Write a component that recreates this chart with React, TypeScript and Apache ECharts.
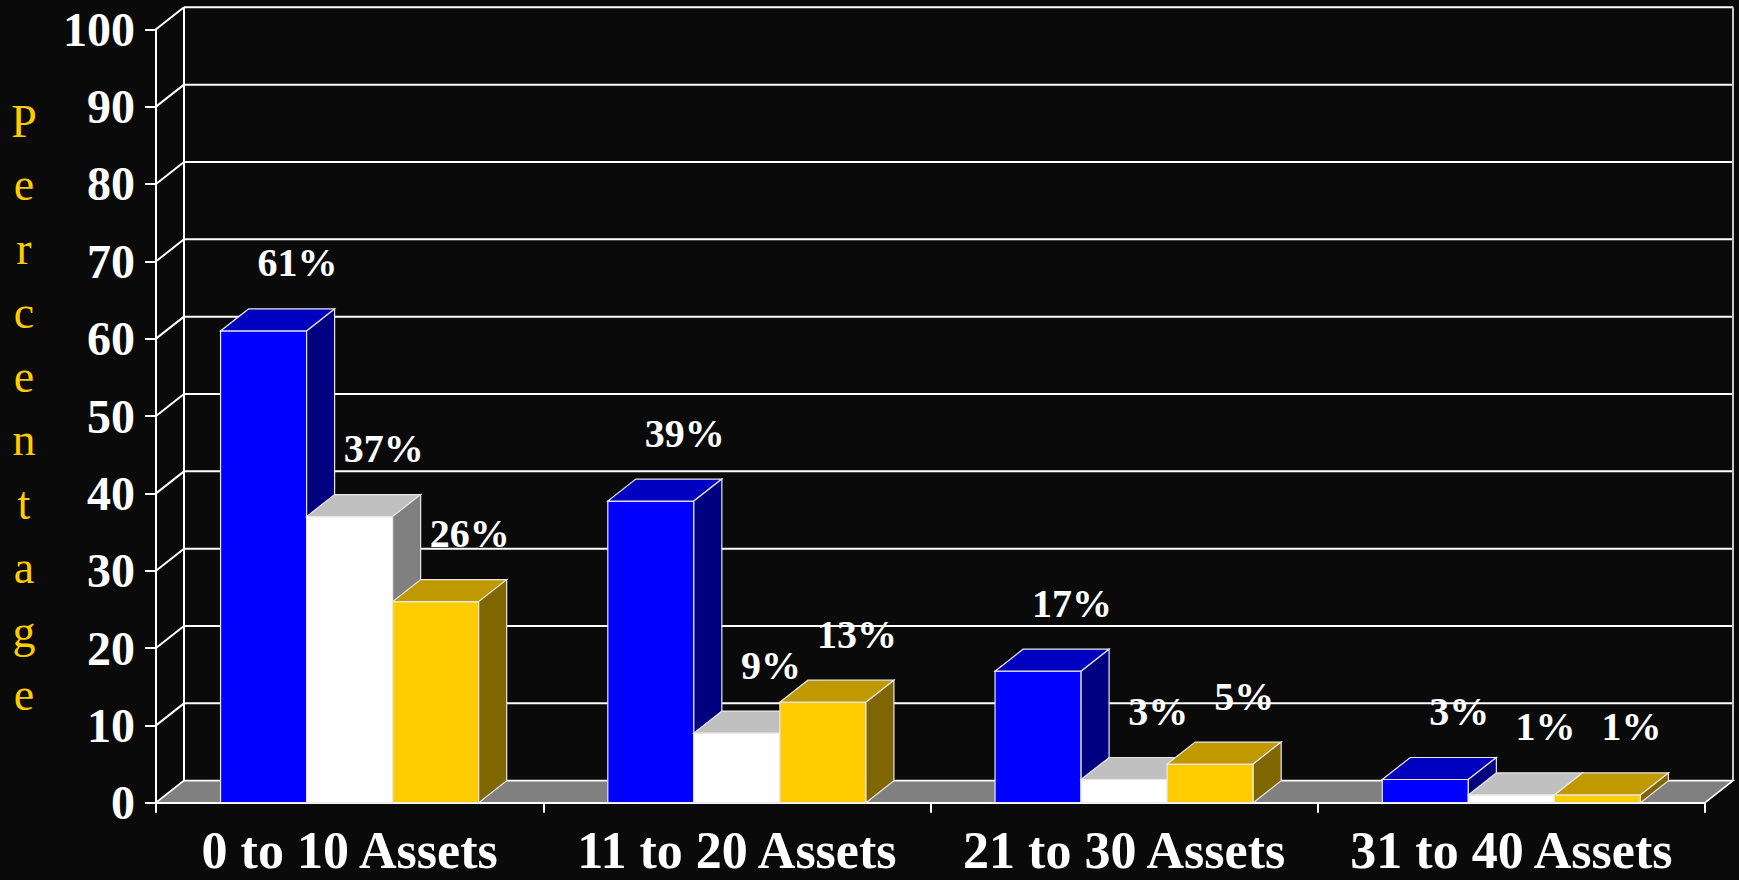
import React, { useEffect, useRef } from "react";
import * as echarts from "echarts";

const categories = ["0 to 10 Assets", "11 to 20 Assets", "21 to 30 Assets", "31 to 40 Assets"];
const seriesBlue = [61, 39, 17, 3];
const seriesWhite = [37, 9, 3, 1];
const seriesYellow = [26, 13, 5, 1];
const yTicks = [0, 10, 20, 30, 40, 50, 60, 70, 80, 90, 100];
const axisTitle = "Percentage";

const SERIF = '"Liberation Serif", "Times New Roman", serif';
const DX = 28;
const DY = -22;
const BAR_FRACTION = 0.2222;
const BG = "#0a0a0a";

const palettes = [
  { front: "#0000FF", top: "#0000C0", side: "#000080" },
  { front: "#FFFFFF", top: "#C0C0C0", side: "#808080" },
  { front: "#FFCC00", top: "#C09900", side: "#806600" },
];

const EDGE = { stroke: "#e8e8e8", lineWidth: 1.2 };

function makeBarRender(k: number) {
  return (params: any, api: any) => {
    const idx = api.value(0);
    const v = api.value(1);
    const base = api.coord([idx, 0]);
    const top = api.coord([idx, v]);
    const catW = api.size([1, 0])[0];
    const w = catW * BAR_FRACTION;
    const xL = base[0] + (k - 1.5) * w;
    const xR = xL + w;
    const yB = base[1];
    const yT = top[1];
    const pal = palettes[k];
    return {
      type: "group",
      children: [
        {
          type: "polygon",
          shape: { points: [[xL, yB], [xR, yB], [xR, yT], [xL, yT]] },
          style: { fill: pal.front, ...EDGE },
        },
        {
          type: "polygon",
          shape: { points: [[xL, yT], [xR, yT], [xR + DX, yT + DY], [xL + DX, yT + DY]] },
          style: { fill: pal.top, ...EDGE },
        },
        {
          type: "polygon",
          shape: { points: [[xR, yT], [xR + DX, yT + DY], [xR + DX, yB + DY], [xR, yB]] },
          style: { fill: pal.side, ...EDGE },
        },
        {
          type: "text",
          x: (xL + xR) / 2 + DX / 2 + 20,
          y: yT + DY - 46,
          style: {
            text: v + "%",
            fill: "#ffffff",
            fontSize: 40,
            fontWeight: "bold",
            fontFamily: SERIF,
            align: "center",
            verticalAlign: "middle",
            textAlign: "center",
            textVerticalAlign: "middle",
          },
        },
      ],
    };
  };
}

function renderWalls(params: any, api: any) {
  const cs = params.coordSys;
  const left = cs.x;
  const right = cs.x + cs.width;
  const y0 = api.coord([0, 0])[1];
  const yTop = api.coord([0, yTicks[yTicks.length - 1]])[1];
  const children: any[] = [];
  const line = { stroke: "#ffffff", lineWidth: 2 };
  yTicks.forEach((t) => {
    const y = api.coord([0, t])[1];
    children.push({ type: "line", shape: { x1: left, y1: y, x2: left + DX, y2: y + DY }, style: line });
    children.push({ type: "line", shape: { x1: left + DX, y1: y + DY, x2: right + DX, y2: y + DY }, style: line });
  });
  children.push({ type: "line", shape: { x1: left + DX, y1: yTop + DY, x2: left + DX, y2: y0 + DY }, style: line });
  children.push({ type: "line", shape: { x1: right + DX, y1: yTop + DY, x2: right + DX, y2: y0 + DY }, style: { stroke: "#c8c8c8", lineWidth: 2 } });
  children.push({
    type: "polygon",
    shape: { points: [[left, y0], [right, y0], [right + DX, y0 + DY], [left + DX, y0 + DY]] },
    style: { fill: "#808080", stroke: "#ffffff", lineWidth: 1.5 },
  });
  return { type: "group", children };
}

export default function App() {
  const ref = useRef<HTMLDivElement>(null);
  useEffect(() => {
    if (!ref.current) return;
    const chart = echarts.init(ref.current, undefined, { renderer: "svg" });
    const allSeries = [seriesBlue, seriesWhite, seriesYellow];
    chart.setOption({
      animation: false,
      backgroundColor: BG,
      grid: { left: 156, right: 34, top: 29.3, bottom: 77.3, containLabel: false, outerBoundsMode: "none" },
      xAxis: {
        type: "category",
        data: categories,
        boundaryGap: true,
        axisLine: { show: true, lineStyle: { color: "#ffffff", width: 2 } },
        axisTick: { show: true, length: 10, lineStyle: { color: "#ffffff", width: 2 } },
        axisLabel: {
          color: "#ffffff",
          fontFamily: SERIF,
          fontWeight: "bold",
          fontSize: 52,
          lineHeight: 50,
          margin: 23,
          interval: 0,
        },
        splitLine: { show: false },
      },
      yAxis: {
        type: "value",
        min: 0,
        max: 100,
        interval: 10,
        axisLine: { show: true, lineStyle: { color: "#ffffff", width: 2 } },
        axisTick: { show: true, length: 11, lineStyle: { color: "#ffffff", width: 2 } },
        axisLabel: {
          color: "#ffffff",
          fontFamily: SERIF,
          fontWeight: "bold",
          fontSize: 48,
          margin: 21,
        },
        splitLine: { show: false },
      },
      graphic: [
        {
          type: "text",
          x: 24,
          y: 408,
          style: {
            text: axisTitle.split("").join("\n"),
            fill: "#FFCC00",
            fontSize: 46,
            fontFamily: SERIF,
            lineHeight: 63.75,
            align: "center",
            verticalAlign: "middle",
            textAlign: "center",
            textVerticalAlign: "middle",
          },
        },
      ],
      series: [
        {
          type: "custom",
          name: "walls",
          renderItem: renderWalls,
          data: [[0, 0]],
          encode: { x: 0, y: 1 },
          clip: false,
          silent: true,
        },
        ...allSeries.map((s, k) => ({
          type: "custom",
          name: "Series " + (k + 1),
          renderItem: makeBarRender(k),
          data: s.map((v, i) => [i, v]),
          encode: { x: 0, y: 1 },
          clip: false,
        })),
      ],
    });
    return () => chart.dispose();
  }, []);
  return (
    <div
      ref={ref}
      style={{ position: "fixed", left: 0, top: 0, width: 1739, height: 880, background: BG }}
    />
  );
}
